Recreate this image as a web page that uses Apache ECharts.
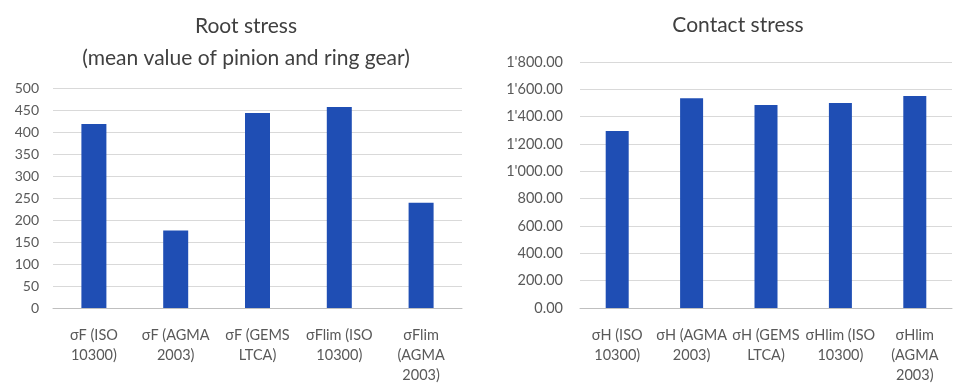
<!DOCTYPE html>
<html>
<head>
<meta charset="utf-8">
<script src="https://cdn.jsdelivr.net/npm/echarts@6/dist/echarts.min.js"></script>
<style>
  html, body { margin: 0; padding: 0; background: #fff; }
  #chart { width: 953px; height: 385px; }
</style>
</head>
<body>
<div id="chart"></div>
<script>
// Root stress (mean of pinion and ring gear), MPa
const rootCategories = ['σF (ISO\n10300)', 'σF (AGMA\n2003)', 'σF (GEMS\nLTCA)', 'σFlim (ISO\n10300)', 'σFlim\n(AGMA\n2003)'];
const rootValues = [418, 176, 443, 457, 239];

// Contact stress, MPa
const contactCategories = ['σH (ISO\n10300)', 'σH (AGMA\n2003)', 'σH (GEMS\nLTCA)', 'σHlim (ISO\n10300)', 'σHlim\n(AGMA\n2003)'];
const contactValues = [1295, 1535, 1485, 1500, 1552];

const FONT = 'Lato';
const BAR = '#1F4EB4';
const GRID_LINE = '#D9D9D9';
const LABEL = '#595959';
const TITLE = '#404040';

// Thousands separated by an apostrophe, two decimals
function swissFormat(v) {
  const parts = v.toFixed(2).split('.');
  parts[0] = parts[0].replace(/\B(?=(\d{3})+(?!\d))/g, "'");
  return parts.join('.');
}

const chart = echarts.init(document.getElementById('chart'), null, { renderer: 'canvas' });

const xAxisCommon = {
  type: 'category',
  axisTick: { show: false },
  axisLine: { lineStyle: { color: '#BFBFBF', width: 1 } },
  axisLabel: { color: LABEL, fontFamily: FONT, fontSize: 14.5, lineHeight: 20, margin: 17, interval: 0 }
};
const yAxisCommon = {
  type: 'value',
  min: 0,
  axisLine: { show: false },
  axisTick: { show: false },
  splitLine: { lineStyle: { color: GRID_LINE, width: 1 } },
  axisLabel: { color: LABEL, fontFamily: FONT }
};

chart.setOption({
  animation: false,
  backgroundColor: '#fff',
  title: [
    { text: 'Root stress', left: 241, top: 11, textAlign: 'center',
      textStyle: { fontFamily: FONT, fontSize: 21, fontWeight: 'normal', color: TITLE } },
    { text: '(mean value of pinion and ring gear)', left: 241, top: 43, textAlign: 'center',
      textStyle: { fontFamily: FONT, fontSize: 21, fontWeight: 'normal', color: TITLE } },
    { text: 'Contact stress', left: 733, top: 10, textAlign: 'center',
      textStyle: { fontFamily: FONT, fontSize: 21, fontWeight: 'normal', color: TITLE } }
  ],
  grid: [
    { left: 53, right: 491, top: 88, bottom: 71 },
    { left: 580, right: 1, top: 62, bottom: 71 }
  ],
  xAxis: [
    Object.assign({}, xAxisCommon, { gridIndex: 0, data: rootCategories }),
    Object.assign({}, xAxisCommon, { gridIndex: 1, data: contactCategories })
  ],
  yAxis: [
    Object.assign({}, yAxisCommon, { gridIndex: 0, max: 500, interval: 50,
      axisLabel: Object.assign({}, yAxisCommon.axisLabel, { fontSize: 14, margin: 14 }) }),
    Object.assign({}, yAxisCommon, { gridIndex: 1, max: 1800, interval: 200,
      axisLabel: Object.assign({}, yAxisCommon.axisLabel, { fontSize: 14.5, margin: 17, formatter: swissFormat }) })
  ],
  series: [
    { type: 'bar', xAxisIndex: 0, yAxisIndex: 0, data: rootValues,
      barWidth: 25, itemStyle: { color: BAR } },
    { type: 'bar', xAxisIndex: 1, yAxisIndex: 1, data: contactValues,
      barWidth: 23, itemStyle: { color: BAR } }
  ]
});
</script>
</body>
</html>
